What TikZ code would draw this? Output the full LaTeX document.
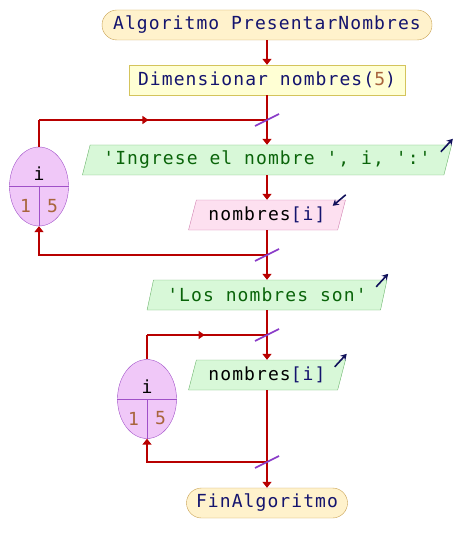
\documentclass[tikz,border=0pt]{standalone}
\usepackage{fontspec}
\usepackage{tikz}
\usetikzlibrary{shapes.geometric,arrows.meta,decorations.markings}
\newfontfamily\psmono[LetterSpace=6]{DejaVu Sans Mono}
\newcommand\pscode{\fontsize{18}{20}\selectfont\psmono}
\definecolor{flowred}{HTML}{B80000}
\definecolor{slashpurple}{HTML}{8A3CC8}
\definecolor{termfill}{HTML}{FFF2CC}
\definecolor{termline}{HTML}{C8A050}
\definecolor{dimfill}{HTML}{FFFFD4}
\definecolor{dimline}{HTML}{D4C45C}
\definecolor{outfill}{HTML}{D8F8D8}
\definecolor{outline}{HTML}{6CB46C}
\definecolor{infill}{HTML}{FDE0F0}
\definecolor{inline}{HTML}{D080B0}
\definecolor{ellfill}{HTML}{F0C8F8}
\definecolor{ellline}{HTML}{A050C8}
\definecolor{codeblue}{HTML}{14146E}
\definecolor{strgreen}{HTML}{0A640A}
\definecolor{numbrown}{HTML}{A8643C}
\definecolor{iconblue}{HTML}{10105A}
\tikzstyle{flow}=[draw=flowred, line width=1.7pt]
\tikzstyle{arr}=[flow, -{Triangle[length=6pt,width=9pt]}]
\tikzstyle{midarr}=[postaction={decorate}, decoration={markings,
        mark=at position 0.48 with {\arrow[flowred]{Triangle[length=6pt,width=8pt]}}}]
\tikzstyle{slash}=[draw=slashpurple, line width=1.7pt]
\tikzstyle{ioarr}=[draw=iconblue, line width=1.6pt, -{Stealth[length=6pt,width=7pt]}]
\tikzstyle{term}=[rectangle, rounded corners=15pt, draw=termline, fill=termfill,
        minimum height=30pt, inner sep=0pt, text=codeblue, font=\pscode]
\tikzstyle{dimbox}=[rectangle, draw=dimline, fill=dimfill, minimum height=30pt,
        inner sep=0pt, text=codeblue, font=\pscode]
\tikzstyle{para}=[trapezium, trapezium left angle=68, trapezium right angle=112,
        trapezium stretches=true, minimum height=30pt, inner sep=0pt, font=\pscode]
\tikzstyle{outpara}=[para, draw=outline, fill=outfill, text=strgreen]
\tikzstyle{inpara}=[para, draw=inline, fill=infill, text=codeblue]
\tikzstyle{loopell}=[ellipse, draw=ellline, fill=ellfill, minimum width=59pt,
        minimum height=79pt, inner sep=0pt]
\tikzstyle{ellnum}=[inner sep=0pt, font=\pscode, text=numbrown]
\begin{document}
\begin{tikzpicture}[x=1pt,y=-1pt]
\useasboundingbox (0,0) rectangle (458,553);
\node[term, minimum width=330pt] (ini) at (267,25) {Algoritmo PresentarNombres};
\node[dimbox, minimum width=276pt] (dim) at (267,80) {Dimensionar nombres(\textcolor{numbrown}{5})};
\node[outpara, minimum width=371pt] (p1) at (267,160) {'Ingrese el nombre ', i, ':'};
\node[inpara, minimum width=157pt] (p2) at (267,215) {\textcolor{black}{nombres}[i]};
\node[outpara, minimum width=240pt] (p3) at (267,295) {'Los nombres son'};
\node[outpara, minimum width=157pt, text=codeblue] (p4) at (267,375) {\textcolor{black}{nombres}[i]};
\node[term, minimum width=161pt] (fin) at (267,503) {FinAlgoritmo};

% ciclos
\node[loopell] (e1) at (39,186.5) {};
\draw[draw=ellline] (e1.west) -- (e1.east) (e1.center) -- (e1.south);
\node[ellnum, text=black] (e1v) at (39,174) {i};
\node[ellnum] (e1a) at (25.5,206) {1};
\node[ellnum] (e1b) at (52.5,206) {5};
\node[loopell] (e2) at (147,399) {};
\draw[draw=ellline] (e2.west) -- (e2.east) (e2.center) -- (e2.south);
\node[ellnum, text=black] (e2v) at (147,386.5) {i};
\node[ellnum] (e2a) at (133.5,418.5) {1};
\node[ellnum] (e2b) at (160.5,418.5) {5};

\coordinate (j1) at (267,120);
\coordinate (j2) at (267,255);
\coordinate (j3) at (267,335);
\coordinate (j4) at (267,462);

\draw[arr] (ini) -- (dim);
\draw[flow] (dim) -- (j1);
\draw[arr] (j1) -- (p1);
\draw[arr] (p1) -- (p2);
\draw[flow] (p2) -- (j2);
\draw[arr] (j2) -| (e1);
\draw[flow] (e1.north) -- (e1.north |- j1);
\draw[flow, midarr] (e1.north |- j1) -- (j1);
\draw[arr] (j2) -- (p3);
\draw[flow] (p3) -- (j3);
\draw[arr] (j3) -- (p4);
\draw[flow] (p4) -- (j4);
\draw[arr] (j4) -| (e2);
\draw[flow] (e2.north) -- (e2.north |- j3);
\draw[flow, midarr] (e2.north |- j3) -- (j3);
\draw[arr] (j4) -- (fin);
\foreach \j in {j1,j2,j3,j4}
  \draw[slash] ([shift={(-12,6)}]\j) -- ([shift={(12,-6)}]\j);

% lectura / escritura
\draw[ioarr] ([shift={(-11,7)}]p1.top right corner) -- ([shift={(1,-6)}]p1.top right corner);
\draw[ioarr] ([shift={(0,-5)}]p2.top right corner) -- ([shift={(-13,6)}]p2.top right corner);
\draw[ioarr] ([shift={(-11,7)}]p3.top right corner) -- ([shift={(1,-6)}]p3.top right corner);
\draw[ioarr] ([shift={(-11,7)}]p4.top right corner) -- ([shift={(1,-6)}]p4.top right corner);
\end{tikzpicture}
\end{document}
